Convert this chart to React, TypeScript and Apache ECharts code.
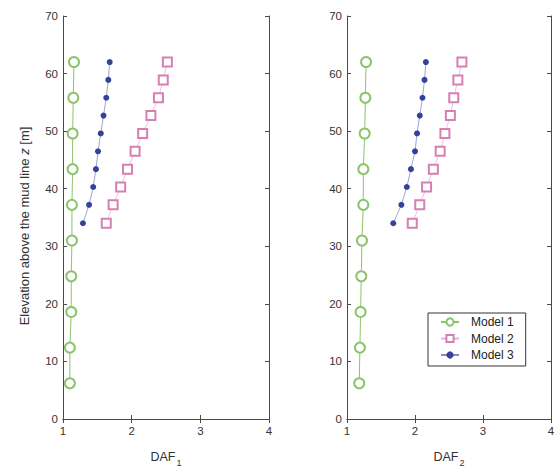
import React, { useEffect, useRef } from "react";
import * as echarts from "echarts";

const seriesNames = ["Model 1", "Model 2", "Model 3"];
const elevModel1 = [6.2, 12.4, 18.6, 24.8, 31, 37.2, 43.4, 49.6, 55.8, 62];
const elevModel23 = [34, 37.2, 40.3, 43.4, 46.5, 49.6, 52.7, 55.8, 58.9, 62];

const daf1Model1 = [1.1, 1.1, 1.12, 1.12, 1.13, 1.13, 1.14, 1.14, 1.15, 1.16];
const daf1Model2 = [1.63, 1.73, 1.84, 1.94, 2.05, 2.16, 2.28, 2.39, 2.46, 2.52];
const daf1Model3 = [1.29, 1.38, 1.44, 1.48, 1.51, 1.55, 1.59, 1.63, 1.66, 1.68];
const daf2Model1 = [1.18, 1.19, 1.2, 1.21, 1.22, 1.24, 1.24, 1.26, 1.27, 1.28];
const daf2Model2 = [1.96, 2.07, 2.17, 2.27, 2.37, 2.44, 2.52, 2.57, 2.63, 2.69];
const daf2Model3 = [1.68, 1.8, 1.88, 1.94, 2.0, 2.03, 2.07, 2.11, 2.14, 2.16];

const GREEN = "#8cc46c";
const PINK = "#d77fb4";
const BLUE = "#34429c";
const AXIS = "#4a4a4a";
const FONT = "Liberation Sans";

const pairs = (xs: number[], ys: number[]) => xs.map((x, i) => [x, ys[i]]);

export default function App() {
  const ref = useRef<HTMLDivElement>(null);
  useEffect(() => {
    if (!ref.current) return;
    const chart = echarts.init(ref.current, null, { renderer: "svg" });

    const xMain = (gi: number, sub: string) => ({
      type: "value",
      gridIndex: gi,
      min: 1,
      max: 4,
      interval: 1,
      position: "bottom",
      name: `{a|DAF}{s|${sub}}`,
      nameLocation: "middle",
      nameGap: 28,
      nameTextStyle: {
        rich: {
          a: { fontSize: 12.5, color: "#333", fontFamily: FONT },
          s: { fontSize: 9, color: "#333", fontFamily: FONT, padding: [11, 0, 0, 1] },
        },
      },
      axisLine: { show: true, lineStyle: { color: AXIS, width: 1 } },
      axisTick: { show: true, inside: true, length: 4, lineStyle: { color: AXIS } },
      axisLabel: { show: true, fontSize: 11.5, color: "#333", fontFamily: FONT, margin: 6 },
      splitLine: { show: false },
    });
    const xMirror = (gi: number) => ({
      type: "value",
      gridIndex: gi,
      min: 1,
      max: 4,
      interval: 1,
      position: "top",
      axisLine: { show: true, lineStyle: { color: AXIS, width: 1 } },
      axisTick: { show: true, inside: true, length: 4, lineStyle: { color: AXIS } },
      axisLabel: { show: false },
      splitLine: { show: false },
    });
    const yMain = (gi: number) => ({
      type: "value",
      gridIndex: gi,
      min: 0,
      max: 70,
      interval: 10,
      position: "left",
      axisLine: { show: true, lineStyle: { color: AXIS, width: 1 } },
      axisTick: { show: true, inside: true, length: 4, lineStyle: { color: AXIS } },
      axisLabel: { show: true, fontSize: 11.5, color: "#333", fontFamily: FONT, margin: 5 },
      splitLine: { show: false },
    });
    const yMirror = (gi: number) => ({
      type: "value",
      gridIndex: gi,
      min: 0,
      max: 70,
      interval: 10,
      position: "right",
      axisLine: { show: true, lineStyle: { color: AXIS, width: 1 } },
      axisTick: { show: true, inside: true, length: 4, lineStyle: { color: AXIS } },
      axisLabel: { show: false },
      splitLine: { show: false },
    });

    const mk = (name: string, data: number[][], axisIdx: number) => {
      const base: any = {
        name,
        type: "line",
        xAxisIndex: axisIdx,
        yAxisIndex: axisIdx,
        data,
        silent: true,
      };
      if (name === "Model 1") {
        return {
          ...base,
          symbol: "emptyCircle",
          symbolSize: 10,
          lineStyle: { color: GREEN, width: 1 },
          itemStyle: { color: GREEN, borderColor: GREEN, borderWidth: 1 },
        };
      }
      if (name === "Model 2") {
        return {
          ...base,
          symbol: "emptyRect",
          symbolSize: 9,
          lineStyle: { color: PINK, width: 0.8, opacity: 0.6 },
          itemStyle: { color: PINK, borderColor: PINK, borderWidth: 1 },
        };
      }
      return {
        ...base,
        symbol: "circle",
        symbolSize: 6,
        lineStyle: { color: BLUE, width: 0.8, opacity: 0.6 },
        itemStyle: { color: BLUE },
      };
    };

    chart.setOption({
      animation: false,
      backgroundColor: "#ffffff",
      textStyle: { fontFamily: FONT },
      grid: [
        { left: 63, top: 16, width: 206, height: 408, containLabel: false },
        { left: 347, top: 16, width: 204, height: 408, containLabel: false },
      ],
      xAxis: [xMain(0, "1"), xMain(1, "2"), xMirror(0), xMirror(1)],
      yAxis: [yMain(0), yMain(1), yMirror(0), yMirror(1)],
      graphic: [
        {
          type: "text",
          x: 24,
          y: 226,
          rotation: Math.PI / 2,
          silent: true,
          style: {
            text: "{n|Elevation above the mud line }{i|z}{n| [m]}",
            font: "13px Liberation Sans",
            fill: "#333",
            align: "center",
            verticalAlign: "middle",
            rich: {
              n: { font: "13px Liberation Sans", fill: "#333" },
              i: { font: "italic 13px Liberation Sans", fill: "#333" },
            },
          },
        },
      ],
      legend: {
        show: true,
        orient: "vertical",
        left: 428,
        top: 313,
        data: seriesNames,
        backgroundColor: "#ffffff",
        borderColor: "#333",
        borderWidth: 1,
        borderRadius: 0,
        padding: [3, 12, 5, 12],
        itemGap: 4.5,
        itemWidth: 18,
        itemHeight: 9,
        textStyle: {
          fontSize: 12,
          lineHeight: 12,
          color: "#222",
          fontFamily: FONT,
          padding: [0, 0, 0, 7],
        },
      },
      series: [
        mk("Model 1", pairs(daf1Model1, elevModel1), 0),
        mk("Model 2", pairs(daf1Model2, elevModel23), 0),
        mk("Model 3", pairs(daf1Model3, elevModel23), 0),
        mk("Model 1", pairs(daf2Model1, elevModel1), 1),
        mk("Model 2", pairs(daf2Model2, elevModel23), 1),
        mk("Model 3", pairs(daf2Model3, elevModel23), 1),
      ],
    });
    return () => chart.dispose();
  }, []);
  return (
    <div
      ref={ref}
      style={{ position: "fixed", left: 0, top: 0, width: 558, height: 472, background: "#fff" }}
    />
  );
}
